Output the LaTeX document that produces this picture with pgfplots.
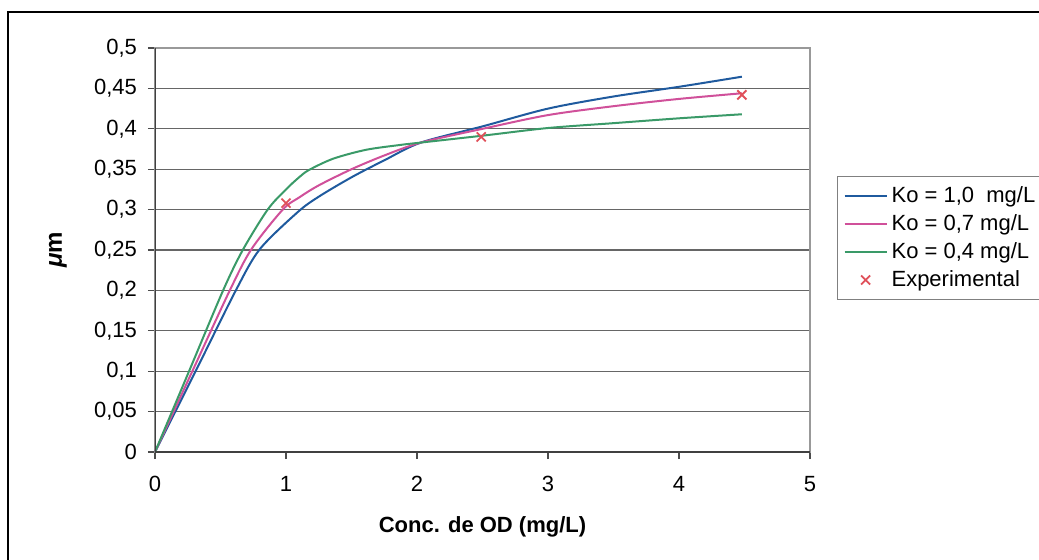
\documentclass[border=0pt]{standalone}
\usepackage{pgfplots}
\pgfplotsset{compat=1.18}
\usepackage{fontspec}
\setmainfont{Liberation Sans}
\definecolor{cblue}{HTML}{1F5A9E}
\definecolor{cpink}{HTML}{D0509A}
\definecolor{cgreen}{HTML}{3A9A68}
\definecolor{cred}{HTML}{E0505A}
\pgfplotsset{
  lineleg/.style={legend image code/.code={\draw[##1] (0pt,0pt) -- (21pt,0pt);}},
  markleg/.style={legend image code/.code={\draw[mark repeat=2,mark phase=2,##1] plot coordinates {(0pt,0pt) (10.5pt,0pt) (21pt,0pt)};}},
}
\begin{document}
\begin{tikzpicture}
\path[use as bounding box] (0,0) rectangle (519.5pt,-279.5pt);
\draw[line width=1pt] (4pt,-285pt) -- (4pt,-6pt) -- (525pt,-6pt);
\begin{axis}[
  at={(77.5pt,-226pt)}, anchor=south west,
  scale only axis, width=327.5pt, height=202pt,
  xmin=0, xmax=5, ymin=0, ymax=0.5,
  xtick={0,1,2,3,4,5},
  ytick={0,0.05,0.1,0.15,0.2,0.25,0.3,0.35,0.4,0.45,0.5},
  yticklabels={0,{0,05},{0,1},{0,15},{0,2},{0,25},{0,3},{0,35},{0,4},{0,45},{0,5}},
  /pgf/number format/assume math mode=true,
  /pgf/number format/use comma,
  tick align=outside, xtick pos=bottom, ytick pos=left,
  major tick length=3.5pt,
  tick style={black!70, line width=0.6pt},
  ticklabel style={font=\fontsize{11}{13}\selectfont},
  xticklabel style={yshift=-5pt},
  yticklabel style={xshift=-2pt},
  ymajorgrids, grid style={black!60, line width=0.6pt},
  axis line style={draw=black!40, line width=0.6pt},
  xlabel={\textbf{Conc. de OD (mg/L)}},
  xlabel style={at={(axis description cs:0.5,0)}, anchor=center, yshift=-37.5pt, font=\fontsize{11}{13}\selectfont},
  ylabel={\textbf{\textit{μ}m}},
  ylabel style={at={(axis description cs:-0.1481,0.5)}, anchor=center, font=\fontsize{12}{14}\selectfont},
  legend style={at={(1.0412,0.683)}, anchor=north west, draw=black!50, line width=0.6pt,
    font=\fontsize{11}{13}\selectfont, inner xsep=3pt, inner ysep=3pt, row sep=0.5pt},
  legend cell align=left,
]
\addplot[cblue, line width=1pt, smooth, tension=0.5, lineleg] coordinates {
 (0,0) (0.31,0.100) (0.617,0.200) (0.80,0.251) (1.09,0.297) (1.25,0.316) (1.5,0.340) (1.75,0.361) (2.03,0.383) (2.5,0.403) (3,0.425) (3.5,0.440) (4,0.452) (4.48,0.4645)
};
\addlegendentry{Ko = 1,0\ \ mg/L}
\addplot[cpink, line width=1pt, smooth, tension=0.5, lineleg] coordinates {
 (0,0) (0.285,0.100) (0.571,0.200) (0.736,0.251) (0.975,0.300) (1.1,0.315) (1.25,0.330) (1.5,0.350) (1.75,0.367) (2.03,0.383) (2.5,0.400) (3,0.417) (3.5,0.428) (4,0.437) (4.48,0.444)
};
\addlegendentry{Ko = 0,7 mg/L}
\addplot[cgreen, line width=1pt, smooth, tension=0.5, lineleg] coordinates {
 (0,0) (0.26,0.100) (0.52,0.200) (0.67,0.250) (0.86,0.300) (1.0,0.325) (1.1,0.340) (1.175,0.349) (1.36,0.363) (1.61,0.374) (1.87,0.380) (2.03,0.383) (2.5,0.3915) (3,0.401) (3.5,0.407) (4,0.413) (4.48,0.418)
};
\addlegendentry{Ko = 0,4 mg/L}
\addplot[only marks, mark=x, mark size=3.2pt, cred, line width=0.9pt, markleg] coordinates {
 (1,0.308) (2.49,0.390) (4.48,0.442)
};
\addlegendentry{Experimental}
\draw[black!75, line width=0.7pt] (rel axis cs:0,1) -- (rel axis cs:0,0) -- (rel axis cs:1,0);
\end{axis}
\end{tikzpicture}
\end{document}
